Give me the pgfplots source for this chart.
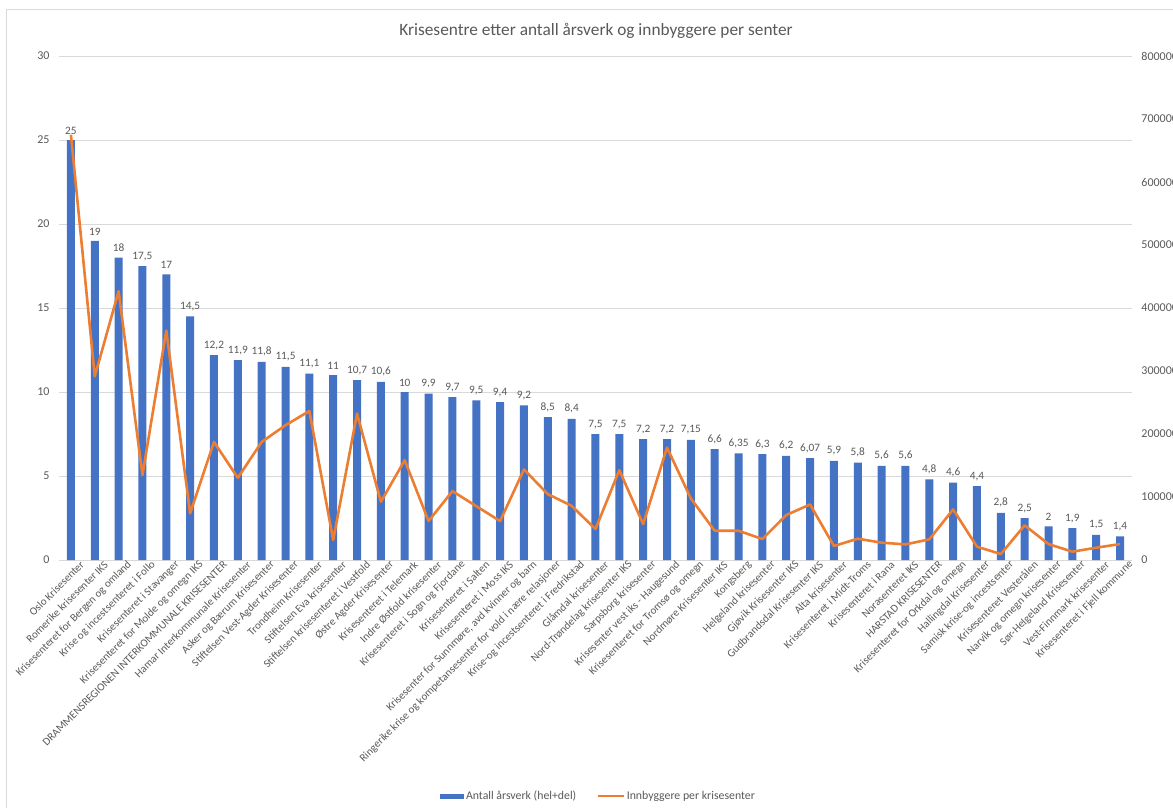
\documentclass[border=0pt]{standalone}
\usepackage{pgfplots}
\pgfplotsset{compat=1.18}
\usepackage{pgfplotstable}
\usepackage{fontspec}
\setmainfont{Carlito}
\definecolor{barblue}{HTML}{4472C4}
\definecolor{lineorange}{HTML}{ED7D31}
\definecolor{txtgray}{HTML}{595959}
\definecolor{gridgray}{HTML}{D9D9D9}

\pgfplotstableread{
x y lab
0 25 25
1 19 19
2 18 18
3 17.5 17,5
4 17 17
5 14.5 14,5
6 12.2 12,2
7 11.9 11,9
8 11.8 11,8
9 11.5 11,5
10 11.1 11,1
11 11 11
12 10.7 10,7
13 10.6 10,6
14 10 10
15 9.9 9,9
16 9.7 9,7
17 9.5 9,5
18 9.4 9,4
19 9.2 9,2
20 8.5 8,5
21 8.4 8,4
22 7.5 7,5
23 7.5 7,5
24 7.2 7,2
25 7.2 7,2
26 7.15 7,15
27 6.6 6,6
28 6.35 6,35
29 6.3 6,3
30 6.2 6,2
31 6.07 6,07
32 5.9 5,9
33 5.8 5,8
34 5.6 5,6
35 5.6 5,6
36 4.8 4,8
37 4.6 4,6
38 4.4 4,4
39 2.8 2,8
40 2.5 2,5
41 2 2
42 1.9 1,9
43 1.5 1,5
44 1.4 1,4
}\bars

\pgfplotstableread{
x v
0 675000
1 291500
2 426600
3 134700
4 364400
5 74000
6 187400
7 130400
8 187400
9 213900
10 236500
11 31700
12 232400
13 92400
14 158400
15 61800
16 109300
17 85500
18 61800
19 143700
20 104600
21 86000
22 49100
23 142600
24 57000
25 178500
26 97700
27 46400
28 46400
29 33300
30 71300
31 88200
32 22200
33 33800
34 27500
35 24800
36 32700
37 80300
38 21100
39 9500
40 55000
41 25300
42 13200
43 19500
44 25300
}\pop

\begin{document}
\begin{tikzpicture}
\useasboundingbox (0pt,0pt) rectangle (1173pt,807pt);
\draw[gridgray, line width=0.8pt] (6pt,-5pt) -- (6pt,798pt) -- (1180pt,798pt);
\node[text=txtgray, font=\fontsize{17.3}{20}\selectfont] at (596pt,776pt) {Krisesentre etter antall årsverk og innbyggere per senter};

\begin{axis}[
  at={(59pt,247pt)}, anchor=south west,
  scale only axis, width=1073pt, height=504pt,
  xmin=-0.5, xmax=44.5, ymin=0, ymax=30,
  ytick={0,5,10,15,20,25,30},
  yticklabels={0,5,10,15,20,25,30},
  xtick={0,...,44},
  xticklabels={
    {Oslo Krisesenter},
    {Romerike krisesenter IKS},
    {Krisesenteret for Bergen og omland},
    {Krise og incestsenteret i Follo},
    {Krisesenteret i Stavanger},
    {Krisesenteret for Molde og omegn IKS},
    {DRAMMENSREGIONEN INTERKOMMUNALE KRISESENTER},
    {Hamar Interkommunale Krisesenter},
    {Asker og Bærum Krisesenter},
    {Stiftelsen Vest-Agder Krisesenter},
    {Trondheim Krisesenter},
    {Stiftelsen Eva krisesenter},
    {Stiftelsen krisesenteret i Vestfold},
    {Østre Agder Krisesenter},
    {Krisesenteret i Telemark},
    {Indre Østfold krisesenter},
    {Krisesenteret i Sogn og Fjordane},
    {Krisesenteret i Salten},
    {Krisesenteret i Moss IKS},
    {Krisesenter for Sunnmøre, avd kvinner og barn},
    {Ringerike krise og kompetansesenter for vold i nære relasjoner},
    {Krise-og incestsenteret i Fredrikstad},
    {Glåmdal krisesenter},
    {Nord-Trøndelag krisesenter IKS},
    {Sarpsborg krisesenter},
    {Krisesenter vest iks - Haugesund},
    {Krisesenteret for Tromsø og omegn},
    {Nordmøre Krisesenter IKS},
    {Kongsberg},
    {Helgeland krisesenter},
    {Gjøvik Krisesenter IKS},
    {Gudbrandsdal Krisesenter IKS},
    {Alta krisesenter},
    {Krisesenteret i Midt-Troms},
    {Krisesenteret i Rana},
    {Norasenteret IKS},
    {HARSTAD KRISESENTER},
    {Krisesenteret for Orkdal og omegn},
    {Hallingdal Krisesenter},
    {Samisk krise-og incestsenter},
    {Krisesenteret Vesterålen},
    {Narvik og omegn krisesenter},
    {Sør-Helgeland Krisesenter},
    {Vest-Finnmark krisesenter},
    {Krisesenteret i Fjell kommune}},
  xticklabel style={rotate=45, anchor=east, font=\fontsize{11}{13}\selectfont, text=txtgray, inner sep=1pt, xshift=7pt, yshift=-10pt},
  yticklabel style={font=\fontsize{12}{14}\selectfont, text=txtgray, xshift=-6pt},
  axis line style={draw=none},
  major tick length=0pt,
  ymajorgrids, grid style={gridgray, line width=0.8pt},
  ybar, bar width=8pt,
  legend style={at={(0.5,0)}, anchor=center, xshift=3pt, yshift=-236pt, draw=none, fill=none,
    legend columns=2, font=\fontsize{11.8}{13}\selectfont, text=txtgray,
    /tikz/every even column/.append style={column sep=18pt},
    nodes={inner sep=2pt}},
  legend cell align=left,
]
\addplot[fill=barblue, draw=none,
  nodes near coords, point meta=explicit symbolic,
  every node near coord/.append style={text=txtgray, font=\fontsize{11.3}{13}\selectfont, anchor=south, yshift=2pt},
  legend image code/.code={\fill[barblue] (0pt,-2.5pt) rectangle (24pt,2.5pt);}]
  table[x=x, y=y, meta=lab] {\bars};
\addlegendentry{Antall årsverk (hel+del)}
\addlegendimage{legend image code/.code={\draw[lineorange, line width=2.5pt] (0pt,0pt) -- (26pt,0pt);}}
\addlegendentry{Innbyggere per krisesenter}
\end{axis}

\begin{axis}[
  at={(59pt,247pt)}, anchor=south west,
  scale only axis, width=1073pt, height=504pt,
  xmin=-0.5, xmax=44.5, ymin=0, ymax=800000,
  axis y line*=right, axis x line=none,
  scaled y ticks=false,
  ytick={0,100000,200000,300000,400000,500000,600000,700000,800000},
  yticklabels={0,100000,200000,300000,400000,500000,600000,700000,800000},
  yticklabel style={font=\fontsize{12}{14}\selectfont, text=txtgray, anchor=west, xshift=6pt},
  axis line style={draw=none},
  major tick length=0pt,
]
\addplot[lineorange, line width=2.6pt, line join=round, mark=none] table[x=x, y=v] {\pop};
\end{axis}
\end{tikzpicture}
\end{document}
